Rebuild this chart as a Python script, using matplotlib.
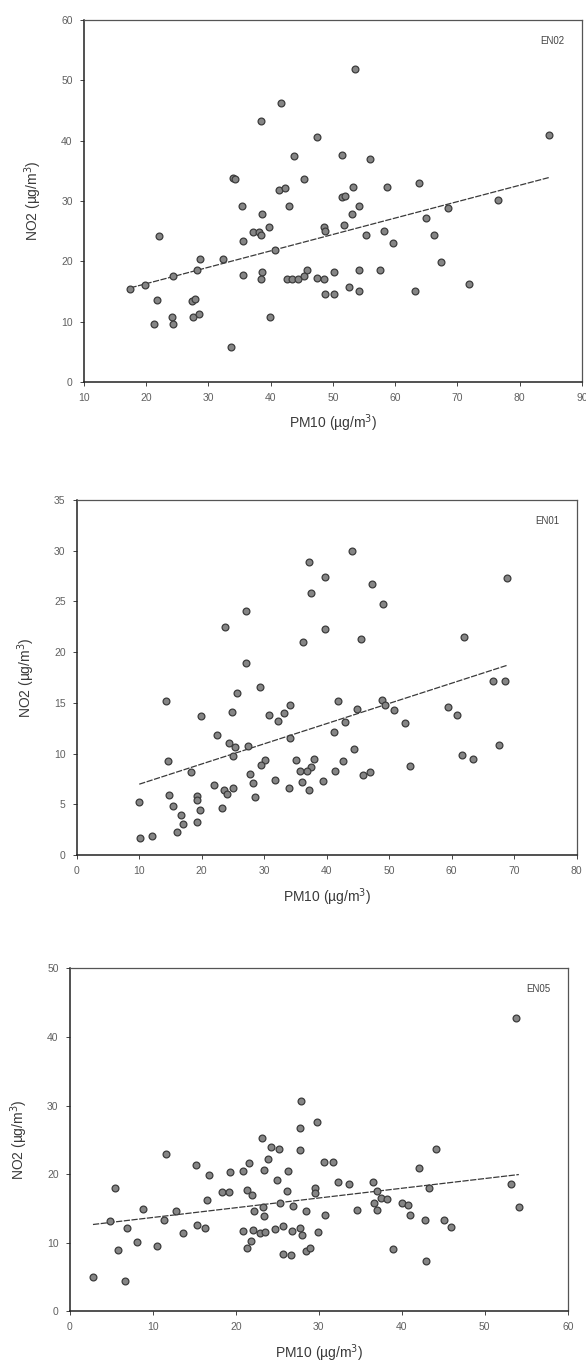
import numpy as np
import matplotlib
matplotlib.use('Agg')
import matplotlib.pyplot as plt

plt.rcParams['font.family'] = ['Liberation Sans', 'DejaVu Sans']

# ── data ─────────────────────────────────────────────────────────────────────
# EN02
pm10_en02 = [53.6, 41.7, 38.4, 47.5, 84.7, 43.8, 51.5, 55.9, 33.9, 34.3, 45.4, 63.9, 41.3,
             42.3, 53.3, 58.7, 51.4, 52.0, 76.6, 35.4, 43.0, 54.2, 38.7, 53.0, 68.5,
             35.5, 37.2, 38.1, 38.5, 39.8, 40.7, 48.5, 48.8, 51.8, 55.3, 58.2, 59.6, 65.0,
             66.3, 67.3, 71.8, 63.2, 57.5, 54.2, 54.2, 52.6, 50.2, 48.7, 50.2, 45.9, 47.5,
             48.5, 42.6, 43.5, 44.4, 45.3, 38.7, 38.4, 35.5, 33.6, 39.9, 32.3, 28.7, 28.2,
             24.4, 22.0, 19.9, 17.5, 21.7, 21.2, 24.1, 24.4, 27.3, 27.9, 27.5, 28.5]
no2_en02 = [51.8, 46.2, 43.2, 40.6, 41.0, 37.5, 37.6, 36.9, 33.8, 33.7, 33.6, 33.0, 31.8,
            32.1, 32.3, 32.3, 30.6, 30.8, 30.2, 29.1, 29.1, 29.1, 27.9, 27.9, 28.8,
            23.4, 24.8, 24.9, 24.3, 25.6, 21.9, 25.6, 25.1, 26.0, 24.3, 25.1, 23.0, 27.2,
            24.3, 19.8, 16.2, 15.0, 18.6, 18.6, 15.1, 15.8, 18.2, 14.6, 14.6, 18.6, 17.3,
            17.0, 17.1, 17.0, 17.1, 17.6, 18.2, 17.1, 17.8, 5.8, 10.8, 20.4, 20.3, 18.5,
            17.5, 24.2, 16.0, 15.4, 13.5, 9.6, 10.7, 9.6, 13.4, 13.8, 10.7, 11.2]

# EN01
pm10_en01 = [44.1, 37.2, 39.8, 68.9, 47.3, 37.5, 49.0, 27.1, 23.8, 39.8, 36.2, 45.5, 62.0,
             27.1, 66.6, 68.6, 29.4, 25.6, 14.3, 41.8, 48.8, 49.3, 44.9, 50.7, 59.4, 60.8,
             34.2, 33.2, 30.8, 32.2, 24.9, 19.9, 43.0, 52.5, 41.1, 22.5, 34.2, 24.3, 25.3,
             27.4, 25.0, 44.4, 67.5, 30.2, 29.5, 14.6, 35.1, 38.0, 37.5, 42.6, 53.3, 61.7,
             63.4, 18.3, 27.7, 35.7, 36.8, 41.4, 45.8, 47.0, 28.2, 31.7, 36.0, 39.4, 33.9,
             37.2, 22.0, 23.6, 24.1, 25.0, 28.5, 14.8, 15.4, 10.0, 19.2, 19.3, 19.8, 16.7,
             17.0, 19.3, 23.3, 16.1, 10.2, 12.0]
no2_en01 = [30.0, 28.9, 27.4, 27.3, 26.7, 25.8, 24.7, 24.1, 22.5, 22.3, 21.0, 21.3, 21.5,
            18.9, 17.2, 17.2, 16.6, 16.0, 15.2, 15.2, 15.3, 14.8, 14.4, 14.3, 14.6, 13.8,
            14.8, 14.0, 13.8, 13.2, 14.1, 13.7, 13.1, 13.0, 12.1, 11.8, 11.5, 11.0, 10.7,
            10.8, 9.8, 10.5, 10.9, 9.4, 8.9, 9.3, 9.4, 9.5, 8.7, 9.3, 8.8, 9.9,
            9.5, 8.2, 8.0, 8.3, 8.3, 8.3, 7.9, 8.2, 7.1, 7.4, 7.2, 7.3, 6.6,
            6.4, 6.9, 6.4, 6.0, 6.6, 5.7, 5.9, 4.8, 5.2, 5.8, 5.4, 4.4, 4.0,
            3.1, 3.3, 4.6, 2.3, 1.7, 1.9]

# EN05
pm10_en05 = [53.8, 27.9, 29.8, 27.7, 23.1, 24.3, 25.2, 44.1,
             27.7, 11.6, 15.2, 21.6, 20.9, 23.9, 23.4, 25.0, 26.3, 30.6, 31.7, 42.1, 16.8,
             19.3, 5.5, 32.3, 33.6, 36.5, 43.3, 53.2, 18.4, 19.2, 21.3, 21.9, 26.2, 29.5,
             29.5, 37.0, 37.5, 38.2, 16.5, 36.6, 37.0, 40.0, 40.7, 54.1, 25.3, 26.9, 8.8,
             12.8, 22.2, 23.3, 23.4, 28.5, 34.6, 30.7, 41.0, 42.8, 45.1, 45.9, 4.9, 11.4,
             6.9, 15.3, 16.3, 13.7, 20.9, 22.1, 22.9, 23.5, 24.7, 25.7, 26.8, 27.7, 28.0,
             29.9, 21.8, 21.4, 8.1, 10.5, 5.8, 28.4, 28.9, 25.7, 26.7, 39.0, 42.9, 2.8, 6.6]
no2_en05 = [42.8, 30.7, 27.6, 26.8, 25.3, 24.0, 23.7, 23.7,
            23.5, 23.0, 21.3, 21.7, 20.5, 22.2, 20.6, 19.2, 20.4, 21.8, 21.8, 20.9, 19.9,
            20.3, 18.0, 18.8, 18.5, 18.9, 18.0, 18.6, 17.4, 17.4, 17.7, 17.0, 17.6, 18.0,
            17.2, 17.5, 16.5, 16.4, 16.2, 15.8, 14.8, 15.8, 15.5, 15.2, 15.8, 15.4, 15.0,
            14.6, 14.7, 15.2, 13.9, 14.6, 14.8, 14.0, 14.0, 13.3, 13.3, 12.3, 13.2, 13.3,
            12.2, 12.6, 12.2, 11.5, 11.7, 11.9, 11.4, 11.6, 12.0, 12.4, 11.7, 12.2, 11.1,
            11.6, 10.3, 9.2, 10.1, 9.6, 9.0, 8.8, 9.3, 8.4, 8.2, 9.1, 7.4, 5.0, 4.5]

# regression lines as drawn (slope, intercept)
fit_en02 = (0.272, 10.84)
fit_en01 = (0.199, 5.0)
fit_en05 = (0.142, 12.27)

panels = [
    dict(name='EN02', x=pm10_en02, y=no2_en02, fit=fit_en02, rect=[0.143, 0.7204, 0.850, 0.265],
         xlim=(10, 90), ylim=(0, 60), xt=np.arange(10, 91, 10), yt=np.arange(0, 61, 10)),
    dict(name='EN01', x=pm10_en01, y=no2_en01, fit=fit_en01, rect=[0.131, 0.374, 0.853, 0.260],
         xlim=(0, 80), ylim=(0, 35), xt=np.arange(0, 81, 10), yt=np.arange(0, 36, 5)),
    dict(name='EN05', x=pm10_en05, y=no2_en05, fit=fit_en05, rect=[0.119, 0.040, 0.850, 0.251],
         xlim=(0, 60), ylim=(0, 50), xt=np.arange(0, 61, 10), yt=np.arange(0, 51, 10)),
]

fig = plt.figure(figsize=(5.86, 13.66), dpi=100)

for p in panels:
    ax = fig.add_axes(p['rect'])
    x = np.array(p['x'])
    y = np.array(p['y'])
    ax.scatter(x, y, s=24, facecolor='#858585', edgecolor='#3c3c3c', linewidths=0.9, zorder=3)

    m, b = p['fit']
    xl = np.array([x.min(), x.max()])
    ax.plot(xl, m * xl + b, color='#3a3a3a', linewidth=0.9, linestyle=(0, (5, 1.2)), zorder=2)

    ax.set_xlim(*p['xlim'])
    ax.set_ylim(*p['ylim'])
    ax.set_xticks(p['xt'])
    ax.set_yticks(p['yt'])
    ax.tick_params(labelsize=7.5, labelcolor='#606060', color='#444444',
                   length=3, width=0.7, pad=5)
    for side in ['left', 'bottom']:
        ax.spines[side].set_linewidth(1.1)
        ax.spines[side].set_color('#222222')
    for side in ['top', 'right']:
        ax.spines[side].set_linewidth(0.9)
        ax.spines[side].set_color('#555555')

    ax.set_xlabel('PM10 (µg/m$^3$)', fontsize=10, color='#3a3a3a', labelpad=7)
    ax.set_ylabel('NO2 (µg/m$^3$)', fontsize=10, color='#3a3a3a', labelpad=12)
    ax.text(0.965, 0.955, p['name'], transform=ax.transAxes, ha='right', va='top',
            fontsize=7, color='#444444')

plt.savefig('out.png', dpi=100)
plt.close()
